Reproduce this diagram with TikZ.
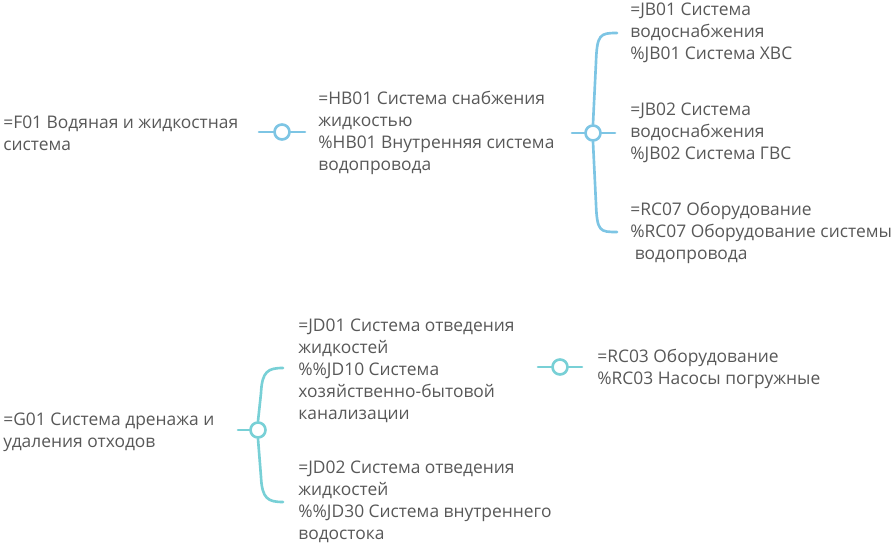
\documentclass[tikz,border=0pt]{standalone}
\usepackage{fontspec}
\setmainfont{Open Sans}
\usetikzlibrary{positioning}
\definecolor{skyline}{RGB}{125,197,228}
\definecolor{tealline}{RGB}{120,208,214}
\definecolor{labelgray}{RGB}{88,88,88}

\begin{document}
\begin{tikzpicture}[x=0.02cm,y=-0.02cm,
    lbl/.style={anchor=west,inner sep=0pt,align=left,text=labelgray,font=\fontsize{9.9}{12.5}\selectfont},
    knot/.style={circle,draw=#1,line width=1.5pt,fill=white,inner sep=0pt,minimum size=0.3cm},
    wire/.style={draw=#1,line width=1.5pt,line cap=round}]
    \useasboundingbox (0,0) rectangle (896,546);

    % water supply branch
    \node[lbl] (f01) at (3,133) {=F01 Водяная и жидкостная\\система};
    \node[knot=skyline] (k1) at (282,132) {};
    \coordinate (k1w) at (259,132);
    \coordinate (k1e) at (305,132);
    \draw[wire=skyline] (k1w) -- (k1);
    \draw[wire=skyline] (k1) -- (k1e);

    \node[lbl] (hb01) at (318,133) {=HB01 Система снабжения\\жидкостью\\\%HB01 Внутренняя система\\водопровода};
    \node[knot=skyline] (k2) at (593,133) {};
    \coordinate (k2w) at (572,133);
    \coordinate (k2e) at (615,133);
    \coordinate (k2n) at (617,33);
    \coordinate (k2s) at (617,232);
    \draw[wire=skyline] (k2w) -- (k2);
    \draw[wire=skyline] (k2) -- (k2e);
    \draw[wire=skyline] (k2.north) -- ++(3,-62) .. controls +(1,-28) and +(-17,0) .. (k2n);
    \draw[wire=skyline] (k2.south) -- ++(3,62) .. controls +(1,28) and +(-17,0) .. (k2s);

    \node[lbl] (jb01) at (630,33) {=JB01 Система\\водоснабжения\\\%JB01 Система ХВС};
    \node[lbl] (jb02) at (630,133) {=JB02 Система\\водоснабжения\\\%JB02 Система ГВС};
    \node[lbl] (rc07) at (630,233) {=RC07 Оборудование\\\%RC07 Оборудование системы\\\hspace*{2.5pt}водопровода};

    % drainage branch
    \node[lbl] (g01) at (3,432) {=G01 Система дренажа и\\удаления отходов};
    \node[knot=tealline] (k3) at (258,430) {};
    \coordinate (k3w) at (238,430);
    \coordinate (k3n) at (283,368);
    \coordinate (k3s) at (283,502);
    \draw[wire=tealline] (k3w) -- (k3);
    \draw[wire=tealline] (k3.north) -- ++(3,-28) .. controls +(1,-22) and +(-15,0) .. (k3n);
    \draw[wire=tealline] (k3.south) -- ++(3,38) .. controls +(1,22) and +(-15,0) .. (k3s);

    \node[lbl] (jd01) at (298,371) {=JD01 Система отведения\\жидкостей\\\%\%JD10 Система\\хозяйственно-бытовой\\канализации};
    \node[lbl] (jd02) at (298,502) {=JD02 Система отведения\\жидкостей\\\%\%JD30 Система внутреннего\\водостока};

    \node[knot=tealline] (k4) at (560,367) {};
    \coordinate (k4w) at (538,367);
    \coordinate (k4e) at (582,367);
    \draw[wire=tealline] (k4w) -- (k4);
    \draw[wire=tealline] (k4) -- (k4e);
    \node[lbl] (rc03) at (597,369) {=RC03 Оборудование\\\%RC03 Насосы погружные};
\end{tikzpicture}
\end{document}
